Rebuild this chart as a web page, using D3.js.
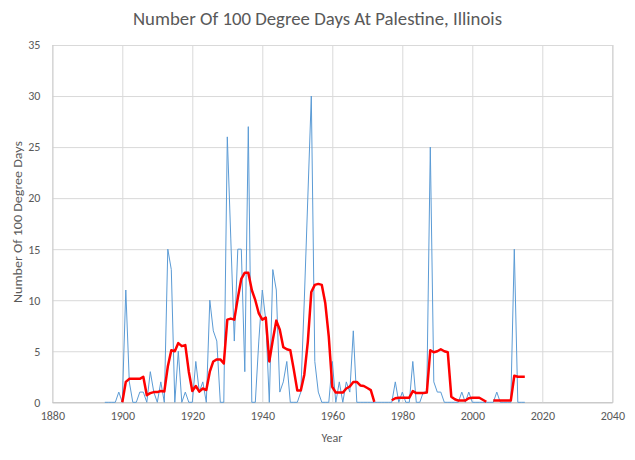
<html>
  <head>
    <script src="https://cdn.jsdelivr.net/npm/d3@7"></script>
    <style>
      body { margin: 0; background: #fff; }
      text { font-family: Calibri, Carlito, Lato, sans-serif; fill: #595959; }
    </style>
  </head>
  <body>
    <div id="container"></div>
    <script>
      // yearly counts, 1895..2015
      const dayYears = d3.range(1895, 2016);
      const dayCounts = [
        0, 0, 0, 0, 1, 0, 11, 2, 0, 0, // 1895-1904
        1, 1, 0, 3, 1, 0, 2, 0, 15, 13, // 1905-1914
        0, 5, 0, 1, 0, 0, 4, 1, 2, 0, // 1915-1924
        10, 7, 6, 0, 0, 26, 16, 6, 15, 15, // 1925-1934
        3, 27, 0, 0, 6, 11, 8, 0, 13, 11, // 1935-1944
        1, 2, 4, 0, 0, 0, 1, 10, 20, 30, // 1945-1954
        4, 1, 0, 0, 0, 4, 0, 2, 0, 2, // 1955-1964
        1, 7, 0, 0, 0, 0, 0, 0, 0, 0, // 1965-1974
        0, 0, 0, 2, 0, 1, 0, 0, 4, 0, // 1975-1984
        0, 1, 1, 25, 2, 1, 1, 0, 0, 0, // 1985-1994
        0, 0, 1, 0, 1, 0, 0, 0, 0, 0, // 1995-2004
        0, 0, 1, 0, 0, 0, 0, 15, 0, 0, // 2005-2014
        0 // 2015
      ];

      // running average as drawn (red), 1900..2015, gaps where the line breaks
      const avgYears = d3.range(1900, 2016);
      const avgCounts = [
        0, 2.0, 2.3, 2.3, 2.3, 2.3, 2.5, 0.7, 0.9, 1.0, // 1900-1909
        1.0, 1.1, 1.05, 3.5, 5.1, 5.0, 5.8, 5.5, 5.6, 3.0, // 1910-1919
        1.1, 1.6, 1.05, 1.35, 1.2, 3.0, 4.0, 4.2, 4.2, 3.8, // 1920-1929
        8.1, 8.2, 8.1, 10.2, 12.1, 12.7, 12.7, 11.0, 10.0, 8.7, // 1930-1939
        8.1, 8.3, 4.0, 6.1, 8.0, 7.1, 5.4, 5.2, 5.1, 3.2, // 1940-1949
        1.15, 1.15, 2.7, 5.9, 10.8, 11.5, 11.6, 11.5, 9.7, 6.4, // 1950-1959
        1.5, 0.95, 0.95, 0.95, 1.35, 1.55, 2.0, 2.0, 1.65, 1.6, // 1960-1969
        1.4, 1.2, 0.05, null, null, null, null, 0.2, 0.4, 0.45, // 1970-1979
        0.45, 0.45, 0.45, 1.1, 0.9, 0.9, 0.9, 0.95, 5.1, 4.9, // 1980-1989
        5.0, 5.2, 5.0, 4.9, 0.55, 0.3, 0.17, 0.17, 0.17, 0.4, // 1990-1999
        0.45, 0.45, 0.45, 0.25, 0.05, null, 0.17, 0.17, 0.17, 0.17, // 2000-2009
        0.17, 0.17, 2.6, 2.5, 2.5, 2.5 // 2010-2015
      ];

      const xTicks = [1880, 1900, 1920, 1940, 1960, 1980, 2000, 2020, 2040];
      const yTicks = [0, 5, 10, 15, 20, 25, 30, 35];

      const W = 635, H = 460;
      const plotL = 52.3, plotR = 612.3, plotT = 45, plotB = 402.3;

      const svg = d3.select("#container").append("svg")
        .attr("width", W).attr("height", H);

      const x = d3.scaleLinear().domain([1880, 2040]).range([plotL, plotR]);
      const y = d3.scaleLinear().domain([0, 35]).range([plotB, plotT]);

      // horizontal grid + y labels
      const yAxis = svg.append("g")
        .attr("transform", `translate(${plotL},0)`)
        .call(d3.axisLeft(y).tickValues(yTicks).tickSize(-(plotR - plotL)).tickPadding(12));
      yAxis.select(".domain").remove();
      yAxis.selectAll("line").attr("stroke", "#d9d9d9");
      yAxis.selectAll("text").attr("font-size", 12).style("fill", "#595959");

      // vertical grid + x labels
      const xAxis = svg.append("g")
        .attr("transform", `translate(0,${plotB})`)
        .call(d3.axisBottom(x).tickValues(xTicks).tickSize(-(plotB - plotT)).tickPadding(9)
          .tickFormat(d3.format("d")));
      xAxis.select(".domain").attr("stroke", "#bfbfbf");
      xAxis.selectAll("line").attr("stroke", "#d9d9d9");
      xAxis.selectAll("text").attr("font-size", 12).style("fill", "#595959");

      const daily = dayYears.map((yr, i) => [yr, dayCounts[i]]);
      const avg = avgYears.map((yr, i) => [yr, avgCounts[i]]);

      svg.append("path")
        .datum(daily)
        .attr("fill", "none")
        .attr("stroke", "#5b9bd5")
        .attr("stroke-width", 1)
        .attr("stroke-linejoin", "round")
        .attr("d", d3.line().x(d => x(d[0])).y(d => y(d[1])));

      svg.append("path")
        .datum(avg)
        .attr("fill", "none")
        .attr("stroke", "#ff0000")
        .attr("stroke-width", 2.5)
        .attr("stroke-linejoin", "round")
        .attr("d", d3.line().defined(d => d[1] != null).x(d => x(d[0])).y(d => y(d[1])));

      // titles
      svg.append("text")
        .attr("x", 317.5).attr("y", 25)
        .attr("text-anchor", "middle")
        .attr("font-size", 18.5)
        .attr("textLength", 369).attr("lengthAdjust", "spacingAndGlyphs")
        .text("Number Of 100 Degree Days At Palestine, Illinois");

      svg.append("text")
        .attr("transform", "translate(22,222) rotate(-90)")
        .attr("text-anchor", "middle")
        .attr("font-size", 12)
        .attr("textLength", 162).attr("lengthAdjust", "spacingAndGlyphs")
        .text("Number Of 100 Degree Days");

      svg.append("text")
        .attr("x", 332).attr("y", 442)
        .attr("text-anchor", "middle")
        .attr("font-size", 12)
        .text("Year");
    </script>
  </body>
</html>
